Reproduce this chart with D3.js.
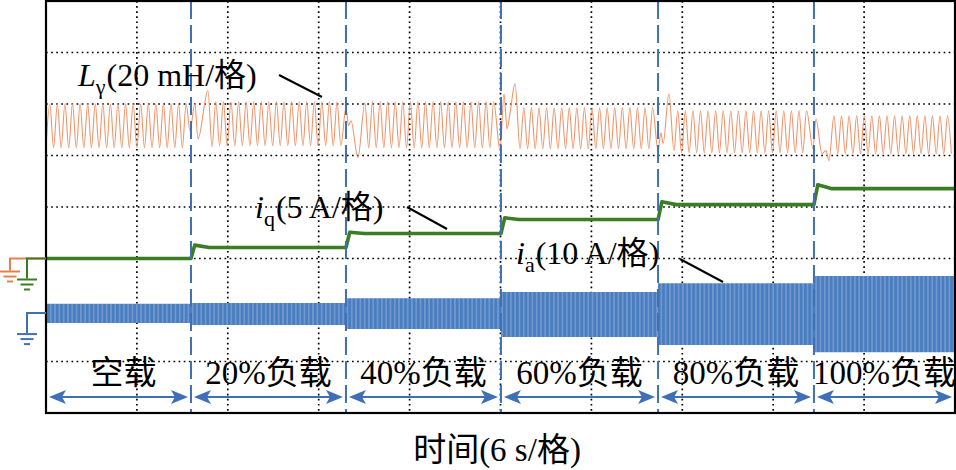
<!DOCTYPE html>
<html>
<head>
<meta charset="utf-8">
<script src="https://cdn.jsdelivr.net/npm/d3@7"></script>
<style>
  html, body { margin: 0; padding: 0; background: #fff; }
  svg { display: block; }
  text { font-family: "Liberation Serif", "Noto Sans CJK SC", serif; fill: #000; }
</style>
</head>
<body>
<svg id="chart" width="956" height="470"></svg>
<script>
// ---------------- data ----------------
const tEnd = 60;                                     // 10 div x 6 s
const tSteps = [9.57, 19.8, 30.03, 40.4, 50.69];     // load step instants (s)
const sectionLabels = ["空载", "20%负载", "40%负载", "60%负载", "80%负载", "100%负载"];
const xTicks = [6, 12, 18, 24, 30, 36, 42, 48, 54];  // grid (s)
const yTicks = [1, 2, 3, 4, 5, 6, 7];                // grid (div)

// iq (A, 5 A/div): settled level and step overshoot per load section
const iqLevels    = [0, 1.07, 2.42, 3.78, 5.23, 6.78];
const iqOvershoot = [null, 1.3, 2.55, 3.95, 5.5, 7.15];

// ia (A, 10 A/div): envelope per load section
const iaHi = [1.8, 1.95, 2.9, 4.1, 5.8, 7.2];
const iaLo = [-1.9, -2.3, -3.1, -4.65, -6.2, -7.6];

// Lγ (mH, 20 mH/div): steady oscillation envelope per section
const lgHi = [60.1, 60.9, 60.9, 58.5, 57.4, 55.4];
const lgLo = [43.0, 43.8, 43.0, 42.6, 41.1, 40.7];
const lgHalfPeriod = 0.25;                                  // s (0.5 s period)
const lgSteadyStart = [0.0, 11.21, 21.30, 31.54, 41.70, 52.26];
const lgSteadyEnd   = [9.3, 19.6, 29.75, 40.2, 50.4, 60.0];
const lgSteadyStartHi = [false, true, false, true, true, false];
// Lγ transients at each load step: [t (s), mH]
const lgTransients = [
  [[9.50, 49.6], [9.83, 60.1], [10.03, 46.5], [10.69, 65.1], [10.96, 43.4]],
  [[19.80, 58.5], [19.97, 51.6], [20.13, 53.5], [20.59, 39.1], [21.05, 60.5]],
  [[29.97, 41.9], [30.23, 64.0], [30.43, 50.4], [30.63, 56.6], [30.96, 67.8], [31.29, 42.6]],
  [[40.40, 41.9], [40.59, 48.8], [40.73, 44.6], [41.12, 64.0], [41.45, 41.9]],
  [[50.63, 42.6], [50.82, 54.3], [51.22, 40.7], [51.48, 41.9], [51.68, 38.0], [52.01, 55.4]]
];

// channel reference levels (div from bottom) and scales (units/div)
const lgZeroDiv = 3, lgPerDiv = 20;
const iqZeroDiv = 3, iqPerDiv = 5;
const iaZeroDiv = 1.94, iaPerDiv = 10;

// ---------------- drawing ----------------
const svg = d3.select("#chart");
const L = 46, R = 955, T = 1, B = 413;
const x = d3.scaleLinear().domain([0, tEnd]).range([L, R]);
const y = d3.scaleLinear().domain([0, 8]).range([B, T]);

const cOrange = "#f0956a", cOrangeDark = "#ec7c4a", cGreen = "#3b7d22", cBlue = "#4a7dbf", cBlueLine = "#3f6fb5";

const defs = svg.append("defs");
const pat = defs.append("pattern").attr("id", "iaTex").attr("patternUnits", "userSpaceOnUse")
  .attr("width", 4.3).attr("height", 10);
pat.append("rect").attr("width", 4.3).attr("height", 10).attr("fill", cBlue);
pat.append("rect").attr("x", 3).attr("width", 0.9).attr("height", 10).attr("fill", "#8fb0dc");

// grid
const grid = svg.append("g").attr("stroke", "#000").attr("stroke-width", 1.7)
  .attr("stroke-dasharray", "1.7,3.4");
grid.selectAll("line.v").data(xTicks).join("line").attr("class", "v")
  .attr("x1", d => x(d)).attr("x2", d => x(d)).attr("y1", T).attr("y2", B);
grid.selectAll("line.h").data(yTicks).join("line").attr("class", "h")
  .attr("x1", L).attr("x2", R).attr("y1", d => y(d)).attr("y2", d => y(d));

// section bounds
const bounds = [0, ...tSteps, tEnd];

// ia band
const iaData = bounds.map((t, i) => ({ t, hi: iaHi[Math.min(i, 5)], lo: iaLo[Math.min(i, 5)] }));
const iaArea = d3.area().curve(d3.curveStepAfter)
  .x(d => x(d.t))
  .y0(d => y(iaZeroDiv + d.lo / iaPerDiv))
  .y1(d => y(iaZeroDiv + d.hi / iaPerDiv));
svg.append("path").datum(iaData).attr("d", iaArea).attr("fill", "url(#iaTex)");

// iq trace
const iqPts = [[0, iqLevels[0]], [tSteps[0], iqLevels[0]]];
for (let i = 1; i < 6; i++) {
  const t0 = bounds[i], t1 = bounds[i + 1];
  iqPts.push([t0 + 0.25, iqOvershoot[i]], [t0 + 1.2, iqLevels[i]], [t1, iqLevels[i]]);
}
svg.append("path").datum(iqPts)
  .attr("d", d3.line().x(d => x(d[0])).y(d => y(iqZeroDiv + d[1] / iqPerDiv)))
  .attr("fill", "none").attr("stroke", cGreen).attr("stroke-width", 3.6).attr("stroke-linejoin", "round");

// Lγ trace
const lgPts = [];
for (let s = 0; s < 6; s++) {
  let hi = lgSteadyStartHi[s];
  for (let t = lgSteadyStart[s]; t <= lgSteadyEnd[s] + 1e-6; t += lgHalfPeriod) {
    lgPts.push([t, hi ? lgHi[s] : lgLo[s]]);
    hi = !hi;
  }
  if (s < 5) lgTransients[s].forEach(p => lgPts.push(p));
}
svg.append("path").datum(lgPts)
  .attr("d", d3.line().curve(d3.curveMonotoneX).x(d => x(d[0])).y(d => y(lgZeroDiv + d[1] / lgPerDiv)))
  .attr("fill", "none").attr("stroke", cOrange).attr("stroke-width", 1.1);

// load-step dashed lines
svg.append("g").selectAll("line").data(tSteps).join("line")
  .attr("x1", d => x(d)).attr("x2", d => x(d)).attr("y1", T).attr("y2", B)
  .attr("stroke", cBlueLine).attr("stroke-width", 2).attr("stroke-dasharray", "18,6");

// frame
svg.append("rect").attr("x", L).attr("y", T).attr("width", R - L).attr("height", B - T)
  .attr("fill", "none").attr("stroke", "#000").attr("stroke-width", 2.2);

// ground markers
function ground(g, cx, top, color) {
  [[0, 10], [5, 6.5], [10, 3]].forEach(([dy, hw]) => {
    g.append("line").attr("x1", cx - hw).attr("x2", cx + hw).attr("y1", top + dy).attr("y2", top + dy)
      .attr("stroke", color).attr("stroke-width", 2);
  });
}
const gOr = svg.append("g");
const yRef = y(lgZeroDiv);
gOr.append("path").attr("d", `M${L},${yRef}H10V${yRef + 12}`).attr("fill", "none").attr("stroke", cOrangeDark).attr("stroke-width", 2);
ground(gOr, 10, yRef + 13, cOrangeDark);
const gGr = svg.append("g");
gGr.append("path").attr("d", `M${L},${y(iqZeroDiv)}H27V${y(iqZeroDiv) + 20}`).attr("fill", "none").attr("stroke", cGreen).attr("stroke-width", 2);
ground(gGr, 27, y(iqZeroDiv) + 21, cGreen);
const gBl = svg.append("g");
const yIa = y(iaZeroDiv);
gBl.append("path").attr("d", `M${L},${yIa}H27V${yIa + 20}`).attr("fill", "none").attr("stroke", cBlueLine).attr("stroke-width", 2);
ground(gBl, 27, yIa + 21, cBlueLine);

// double arrows and section labels
const arrowY = 397;
const ag = svg.append("g");
for (let i = 0; i < 6; i++) {
  const a = x(bounds[i]) + 3, b = x(bounds[i + 1]) - 3;
  ag.append("line").attr("x1", a + 8).attr("x2", b - 8).attr("y1", arrowY).attr("y2", arrowY)
    .attr("stroke", cBlueLine).attr("stroke-width", 2);
  ag.append("path").attr("d", `M${a},${arrowY}L${a + 17},${arrowY - 7}L${a + 13},${arrowY}L${a + 17},${arrowY + 7}Z`).attr("fill", cBlueLine);
  ag.append("path").attr("d", `M${b},${arrowY}L${b - 17},${arrowY - 7}L${b - 13},${arrowY}L${b - 17},${arrowY + 7}Z`).attr("fill", cBlueLine);
}
svg.append("g").selectAll("text").data(sectionLabels).join("text")
  .attr("x", (d, i) => (x(bounds[i]) + x(bounds[i + 1])) / 2 + (i === 0 ? 5 : 0))
  .attr("y", 384).attr("text-anchor", "middle").attr("font-size", 33)
  .text(d => d);

// signal labels + leaders
function sigLabel(x0, yb, main, sub, rest) {
  const t = svg.append("text").attr("x", x0).attr("y", yb).attr("font-size", 32);
  t.append("tspan").attr("font-style", "italic").text(main);
  t.append("tspan").attr("font-size", 22).attr("dy", 8).text(sub);
  t.append("tspan").attr("dy", -8).attr("dx", 1).text(rest);
}
sigLabel(78, 86, "L", "γ", "(20 mH/格)");
sigLabel(255, 218, "i", "q", "(5 A/格)");
sigLabel(516, 264, "i", "a", "(10 A/格)");
const leaders = [[279, 75, 322, 97], [407, 207, 447, 229], [680, 259, 723, 282]];
svg.append("g").selectAll("line").data(leaders).join("line")
  .attr("x1", d => d[0]).attr("y1", d => d[1]).attr("x2", d => d[2]).attr("y2", d => d[3])
  .attr("stroke", "#000").attr("stroke-width", 2);

// x-axis caption
svg.append("text").attr("x", 497).attr("y", 461).attr("text-anchor", "middle")
  .attr("font-size", 33).text("时间(6 s/格)");
</script>
</body>
</html>
